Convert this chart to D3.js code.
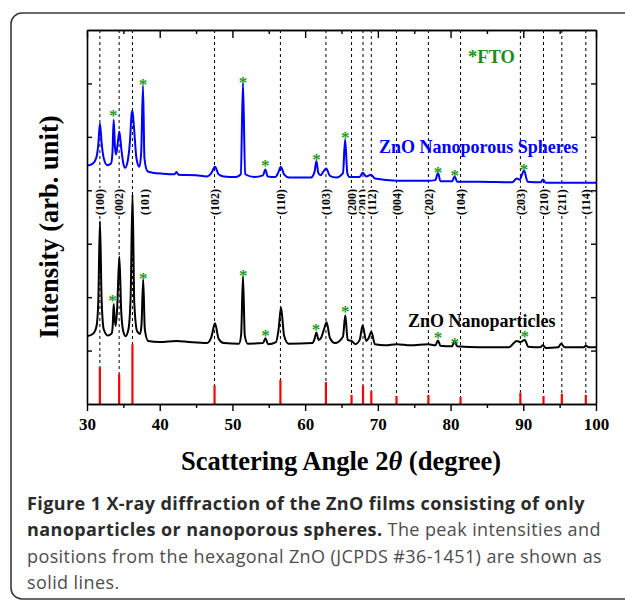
<!DOCTYPE html>
<html>
<head>
<meta charset="utf-8">
<script src="https://cdn.jsdelivr.net/npm/d3@7"></script>
<style>
  body { margin: 0; background: #fff; }
  svg { display: block; }
</style>
</head>
<body>
<div id="chart"></div>
<script>
'use strict';

// ZnO nanoporous spheres (blue), [2theta, intensity]
var spheres = [
  [30.0, 446], [30.8, 450], [31.3, 462], [31.55, 485], [31.78, 525], [32.0, 490], [32.3, 460], [32.8, 447],
  [33.3, 450], [33.5, 470], [33.67, 532], [33.85, 480], [34.0, 467], [34.2, 485], [34.45, 510], [34.7, 480],
  [35.0, 450], [35.25, 442], [35.6, 455], [35.9, 490], [36.15, 545], [36.25, 549], [36.45, 520], [36.8, 460],
  [37.2, 444], [37.45, 470], [37.7, 595], [37.9, 460], [38.3, 436], [39.0, 433], [40.5, 431], [42.0, 430],
  [42.3, 434], [42.6, 429], [45.0, 428], [46.5, 426], [47.1, 432], [47.6, 444], [48.1, 430], [48.8, 426],
  [50.5, 425], [51.15, 430], [51.45, 601], [51.75, 430], [53.0, 425], [54.2, 428], [54.53, 439], [54.85, 426],
  [55.9, 425], [56.3, 433], [56.65, 444], [57.1, 430], [57.8, 424], [60.8, 424], [61.3, 435], [61.55, 455],
  [61.8, 433], [62.1, 428], [62.55, 436], [62.9, 441], [63.4, 427], [64.3, 424], [65.2, 432], [65.5, 495],
  [65.8, 432], [66.1, 425], [66.4, 425], [67.5, 425], [67.9, 433], [68.4, 426], [69.05, 429], [69.6, 422],
  [72.6, 418], [76.9, 418], [77.9, 419], [78.27, 433], [78.6, 417], [80.2, 417], [80.57, 426], [80.9, 416],
  [84.0, 416], [88.5, 415], [89.1, 422], [89.5, 420], [90.1, 437], [90.6, 416], [92.4, 415], [92.7, 420],
  [93.1, 414], [100, 414]
];

// ZnO nanoparticles (black)
var particles = [
  [30.0, 127], [30.8, 131], [31.3, 145], [31.55, 190], [31.78, 342], [32.0, 200], [32.3, 140], [32.9, 128],
  [33.4, 132], [33.55, 150], [33.67, 187], [33.8, 160], [33.95, 146], [34.15, 180], [34.45, 276], [34.7, 175],
  [35.0, 135], [35.3, 127], [35.7, 140], [36.0, 200], [36.26, 392], [36.5, 190], [36.9, 136], [37.3, 131],
  [37.5, 150], [37.73, 233], [37.95, 140], [38.4, 118], [40.0, 116], [42.3, 118], [44.0, 116], [46.5, 114],
  [47.1, 125], [47.6, 151], [48.1, 122], [48.8, 114], [50.9, 113], [51.2, 130], [51.45, 239], [51.7, 128],
  [52.1, 113], [54.2, 114], [54.55, 123], [54.9, 112], [56.0, 116], [56.35, 140], [56.68, 181], [57.1, 128],
  [57.7, 113], [61.0, 114], [61.3, 122], [61.55, 134], [61.85, 120], [62.2, 124], [62.6, 140], [62.95, 153],
  [63.4, 124], [64.1, 114], [65.2, 126], [65.52, 166], [65.85, 120], [66.4, 118], [66.9, 112], [67.5, 120],
  [67.9, 147], [68.4, 118], [68.75, 124], [69.1, 135], [69.6, 112], [71.0, 110], [72.6, 112], [74.5, 110],
  [76.9, 112], [77.9, 110], [78.27, 119], [78.6, 109], [80.2, 108], [80.55, 118], [80.9, 108], [84.0, 106],
  [88.0, 106], [89.1, 118], [89.6, 116], [90.2, 120], [90.7, 107], [92.3, 106], [92.7, 110], [93.1, 105],
  [94.8, 106], [95.2, 113], [95.7, 106], [98.3, 106], [98.6, 109], [99.0, 106], [100, 106]
];

// JCPDS #36-1451 reference lines
var refHkl = ['(100)', '(002)', '(101)', '(102)', '(110)', '(103)', '(200)', '(201)', '(112)', '(004)', '(202)', '(104)', '(203)', '(210)', '(211)', '(114)'];
var refPos = [31.77, 34.42, 36.25, 47.54, 56.60, 62.86, 66.38, 67.96, 69.10, 72.56, 76.95, 81.37, 89.60, 92.78, 95.30, 98.60];
var refInt = [69, 56, 112, 35, 45, 41, 17, 35, 24, 15, 17, 13, 21, 15, 19, 17];

// FTO substrate peaks marked with *
var ftoSpheres = [[33.6, 547], [37.7, 605], [51.45, 609], [54.53, 454], [61.55, 465], [65.5, 506], [78.27, 441], [80.57, 435], [90.1, 446]];
var ftoParticles = [[33.5, 200], [37.75, 243], [51.5, 248], [54.55, 136], [61.5, 147], [65.5, 181], [78.27, 131], [80.57, 121], [90.2, 133]];

var xTicks = [30, 40, 50, 60, 70, 80, 90, 100];
var xMinor = [35, 45, 55, 65, 75, 85, 95];
var yTicks = [100, 200, 300, 400, 500, 600];

var W = 625, H = 601;
var plot = {left: 87, top: 30, right: 596, bottom: 404};
var serif = '"Liberation Serif", "Times New Roman", serif';

var svg = d3.select('#chart').append('svg')
  .attr('width', W).attr('height', H);

// figure frame (rounded, runs off the right edge)
svg.append('rect')
  .attr('x', 11).attr('y', 13).attr('width', 650).attr('height', 586)
  .attr('rx', 11)
  .attr('fill', 'none').attr('stroke', '#3a3a3a').attr('stroke-width', 1.6);

var x = d3.scaleLinear().domain([30, 100]).range([plot.left, plot.right]);
var y = d3.scaleLinear().domain([0, 700]).range([plot.bottom, plot.top]);

// dashed guide lines from top to the reference sticks
svg.append('g').selectAll('line')
  .data(refPos)
  .enter().append('line')
  .attr('x1', function(d) { return x(d); })
  .attr('x2', function(d) { return x(d); })
  .attr('y1', plot.top)
  .attr('y2', function(d, i) { return y(refInt[i]); })
  .attr('stroke', '#000').attr('stroke-width', 1)
  .attr('stroke-dasharray', '3,3');

// hkl labels with white background
var labY = 202;
var lab = svg.append('g').selectAll('g')
  .data(refHkl)
  .enter().append('g')
  .attr('transform', function(d, i) {
    var lx = x(refPos[i]) + (d === '(101)' ? 12 : 0);
    return 'translate(' + lx + ',' + labY + ') rotate(-90)';
  });
lab.append('rect')
  .attr('x', -14).attr('y', -6).attr('width', 28).attr('height', 12)
  .attr('fill', '#fff');
lab.append('text')
  .attr('text-anchor', 'middle')
  .attr('dy', '0.35em')
  .style('font-family', serif).style('font-weight', 'bold').style('font-size', '12px')
  .text(function(d) { return d; });

// reference sticks
svg.append('g').selectAll('line')
  .data(refPos)
  .enter().append('line')
  .attr('x1', function(d) { return x(d); })
  .attr('x2', function(d) { return x(d); })
  .attr('y1', y(0))
  .attr('y2', function(d, i) { return y(refInt[i]); })
  .attr('stroke', '#ff0000').attr('stroke-width', 2.2);

var line = d3.line()
  .x(function(d) { return x(d[0]); })
  .y(function(d) { return y(d[1]); })
  .curve(d3.curveMonotoneX);

svg.append('path').datum(particles)
  .attr('d', line).attr('fill', 'none')
  .attr('stroke', '#000').attr('stroke-width', 2).attr('stroke-linejoin', 'round');

svg.append('path').datum(spheres)
  .attr('d', line).attr('fill', 'none')
  .attr('stroke', '#0000ff').attr('stroke-width', 2).attr('stroke-linejoin', 'round');

// FTO asterisks
svg.append('g').selectAll('text')
  .data(ftoSpheres.concat(ftoParticles))
  .enter().append('text')
  .attr('x', function(d) { return x(d[0]); })
  .attr('y', function(d) { return y(d[1]); })
  .attr('text-anchor', 'middle')
  .attr('dy', '0.55em')
  .attr('fill', '#1f9a1f')
  .style('font-family', serif).style('font-weight', 'bold').style('font-size', '17px')
  .text('*');

// axes
var axisStyle = function(g) {
  g.select('.domain').attr('stroke', '#000').attr('stroke-width', 1.6);
  g.selectAll('.tick line').attr('stroke', '#000').attr('stroke-width', 1.4);
  g.selectAll('.tick text')
    .style('font-family', serif).style('font-weight', 'bold').style('font-size', '17px').attr('fill', '#000');
};

svg.append('g')
  .attr('transform', 'translate(0,' + plot.bottom + ')')
  .call(d3.axisBottom(x).tickValues(xTicks).tickSize(7).tickPadding(7).tickSizeOuter(0))
  .call(axisStyle);
svg.append('g')
  .attr('transform', 'translate(0,' + plot.bottom + ')')
  .call(d3.axisBottom(x).tickValues(xMinor).tickSize(4).tickFormat('').tickSizeOuter(0))
  .call(axisStyle);

svg.append('g')
  .attr('transform', 'translate(0,' + plot.top + ')')
  .call(d3.axisTop(x).tickValues(xTicks).tickSize(-8).tickFormat('').tickSizeOuter(0))
  .call(axisStyle);
svg.append('g')
  .attr('transform', 'translate(0,' + plot.top + ')')
  .call(d3.axisTop(x).tickValues(xMinor).tickSize(-4).tickFormat('').tickSizeOuter(0))
  .call(axisStyle);

svg.append('g')
  .attr('transform', 'translate(' + plot.left + ',0)')
  .call(d3.axisLeft(y).tickValues(yTicks).tickSize(-5).tickFormat('').tickSizeOuter(0))
  .call(axisStyle);
svg.append('g')
  .attr('transform', 'translate(' + plot.right + ',0)')
  .call(d3.axisRight(y).tickValues(yTicks).tickSize(-5).tickFormat('').tickSizeOuter(0))
  .call(axisStyle);

// in-plot text
svg.append('text')
  .attr('x', x(82.4)).attr('y', 63)
  .attr('fill', '#1f8a1f')
  .style('font-family', serif).style('font-weight', 'bold').style('font-size', '18.5px')
  .text('*FTO');

svg.append('text')
  .attr('x', x(70.15)).attr('y', 153)
  .attr('fill', '#0000ff')
  .style('font-family', serif).style('font-weight', 'bold').style('font-size', '18px')
  .text('ZnO Nanoporous Spheres');

svg.append('text')
  .attr('x', x(74.15)).attr('y', 327)
  .attr('fill', '#000')
  .style('font-family', serif).style('font-weight', 'bold').style('font-size', '18px')
  .text('ZnO Nanoparticles');

// axis titles
var xt = svg.append('text')
  .attr('x', 341).attr('y', 470)
  .attr('text-anchor', 'middle')
  .style('font-family', serif).style('font-weight', 'bold').style('font-size', '26.5px');
xt.append('tspan').text('Scattering Angle 2');
xt.append('tspan').style('font-style', 'italic').text('\u03b8');
xt.append('tspan').text(' (degree)');

svg.append('text')
  .attr('transform', 'translate(58,227) rotate(-90)')
  .attr('text-anchor', 'middle')
  .style('font-family', serif).style('font-weight', 'bold').style('font-size', '26.5px')
  .text('Intensity (arb. unit)');

// caption
var cap = svg.append('g')
  .style('font-family', '"Open Sans", sans-serif').style('font-size', '18px')
  .style('letter-spacing', '0.4px');
var capLines = [
  [['Figure 1 X-ray diffraction of the ZnO films consisting of only', true]],
  [['nanoparticles or nanoporous spheres.', true], [' The peak intensities and', false]],
  [['positions from the hexagonal ZnO (JCPDS #36-1451) are shown as', false]],
  [['solid lines.', false]]
];
capLines.forEach(function(parts, i) {
  var t = cap.append('text').attr('x', 27).attr('y', 510 + i * 26.4);
  parts.forEach(function(p) {
    t.append('tspan')
      .attr('fill', p[1] ? '#2b2b2b' : '#4d4d4d')
      .style('font-weight', p[1] ? 'bold' : 'normal')
      .text(p[0]);
  });
});
</script>
</body>
</html>
